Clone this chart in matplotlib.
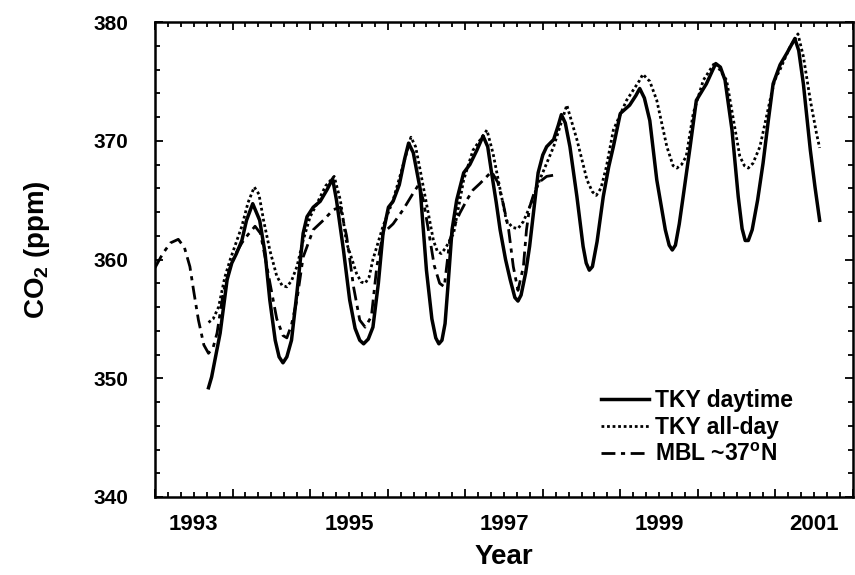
import matplotlib
matplotlib.use("Agg")
from matplotlib import pyplot as plt
import numpy as np

plt.rcParams['font.family'] = ['Liberation Sans', 'DejaVu Sans']
plt.rcParams['font.weight'] = 'bold'
plt.rcParams['mathtext.fontset'] = 'custom'
plt.rcParams['mathtext.rm'] = 'Liberation Sans:bold'
plt.rcParams['mathtext.bf'] = 'Liberation Sans:bold'
plt.rcParams['mathtext.default'] = 'bf'

# TKY daytime (decimal year, ppm)
day_t = [1993.69, 1993.73, 1993.84, 1993.93, 1993.99, 1994.05, 1994.12, 1994.18, 1994.26,
         1994.35, 1994.42, 1994.48, 1994.55, 1994.60, 1994.65, 1994.70, 1994.76, 1994.83,
         1994.91, 1994.96, 1995.04, 1995.13, 1995.22, 1995.29, 1995.34, 1995.43, 1995.51,
         1995.58, 1995.64, 1995.69, 1995.75, 1995.81, 1995.88, 1995.94, 1996.01, 1996.07,
         1996.15, 1996.22, 1996.27, 1996.33, 1996.42, 1996.50, 1996.57, 1996.62, 1996.66,
         1996.70, 1996.74, 1996.78, 1996.83, 1996.89, 1996.98, 1997.06, 1997.15, 1997.23,
         1997.29, 1997.34, 1997.40, 1997.45, 1997.52, 1997.58, 1997.64, 1997.68, 1997.72,
         1997.78, 1997.83, 1997.89, 1997.94, 1998.00, 1998.05, 1998.14, 1998.20, 1998.24,
         1998.29, 1998.35, 1998.44, 1998.52, 1998.56, 1998.60, 1998.64, 1998.70, 1998.78,
         1998.85, 1998.91, 1999.00, 1999.12, 1999.20, 1999.25, 1999.31, 1999.38, 1999.47,
         1999.58, 1999.63, 1999.67, 1999.71, 1999.76, 1999.81, 1999.90, 1999.98, 2000.11,
         2000.18, 2000.23, 2000.29, 2000.35, 2000.44, 2000.52, 2000.57, 2000.61, 2000.65,
         2000.70, 2000.77, 2000.84, 2000.91, 2000.97, 2001.06, 2001.15, 2001.25, 2001.30,
         2001.36, 2001.45, 2001.51, 2001.57]
day_co2 = [349.2, 350.1, 353.8, 358.3, 359.7, 360.5, 361.6, 363.3, 364.7,
           363.3, 360.5, 356.6, 353.2, 351.8, 351.3, 351.8, 353.2, 357.2,
           362.2, 363.6, 364.4, 364.9, 365.9, 366.8, 365.0, 360.8, 356.6,
           354.2, 353.2, 352.9, 353.3, 354.3, 358.0, 362.2, 364.4, 364.9,
           366.3, 368.5, 369.8, 369.0, 365.9, 359.1, 355.0, 353.4, 352.9,
           353.2, 354.6, 358.0, 362.5, 365.0, 367.3, 368.0, 369.2, 370.4,
           369.5, 367.3, 364.8, 362.5, 360.0, 358.3, 356.8, 356.5, 357.0,
           358.9, 361.1, 364.5, 367.3, 368.8, 369.5, 370.1, 371.3, 372.2,
           371.5, 369.5, 365.3, 361.1, 359.7, 359.1, 359.4, 361.5, 365.3,
           367.8, 369.5, 372.3, 373.0, 373.8, 374.4, 373.6, 371.7, 366.7,
           362.5, 361.2, 360.8, 361.2, 363.0, 365.3, 369.5, 373.4, 374.8,
           375.8, 376.5, 376.2, 375.1, 370.9, 365.3, 362.6, 361.6, 361.6,
           362.5, 365.0, 368.1, 371.8, 374.8, 376.4, 377.4, 378.6, 377.6,
           374.8, 369.2, 366.1, 363.3]

# TKY all-day
all_t = [1993.69, 1993.75, 1993.82, 1993.90, 1993.97, 1994.05, 1994.12, 1994.20, 1994.28,
         1994.34, 1994.40, 1994.48, 1994.57, 1994.64, 1994.70, 1994.76, 1994.83, 1994.91,
         1995.00, 1995.08, 1995.20, 1995.31, 1995.39, 1995.47, 1995.60, 1995.66, 1995.71,
         1995.76, 1995.81, 1995.94, 1996.07, 1996.18, 1996.30, 1996.36, 1996.42, 1996.46,
         1996.59, 1996.64, 1996.69, 1996.75, 1996.85, 1996.98, 1997.10, 1997.28, 1997.36,
         1997.45, 1997.53, 1997.61, 1997.68, 1997.75, 1997.83, 1997.96, 1998.14, 1998.31,
         1998.44, 1998.57, 1998.64, 1998.69, 1998.75, 1998.82, 1998.91, 1999.08, 1999.25,
         1999.29, 1999.38, 1999.47, 1999.60, 1999.68, 1999.73, 1999.79, 1999.85, 1999.94,
         2000.07, 2000.22, 2000.37, 2000.46, 2000.54, 2000.60, 2000.65, 2000.71, 2000.80,
         2000.93, 2000.99, 2001.06, 2001.18, 2001.29, 2001.36, 2001.45, 2001.53, 2001.57]
all_co2 = [354.7, 355.0, 356.0, 358.5, 360.0, 361.5, 362.8, 364.8, 366.1,
           365.5, 363.3, 360.8, 358.6, 357.8, 357.7, 358.2, 359.4, 361.6,
           363.6, 364.6, 366.2, 367.0, 365.0, 361.4, 358.8, 358.1, 358.0,
           358.5, 360.0, 362.8, 365.0, 367.5, 370.3, 369.5, 367.5, 366.1,
           361.6, 360.7, 360.5, 361.0, 362.2, 366.7, 369.2, 370.9, 368.9,
           365.9, 363.3, 362.7, 362.6, 363.2, 364.4, 366.7, 369.5, 373.0,
           370.1, 366.7, 365.7, 365.4, 366.0, 367.8, 370.9, 373.4, 375.1,
           375.6, 375.0, 373.4, 369.5, 367.9, 367.7, 368.0, 368.7, 372.3,
           375.1, 376.6, 375.1, 371.7, 368.7, 367.9, 367.7, 368.1, 369.5,
           373.4, 375.1, 376.0, 377.8, 379.0, 377.1, 373.4, 370.6, 369.4]

# MBL ~37N
mbl_t = [1993.00, 1993.10, 1993.20, 1993.30, 1993.38, 1993.45, 1993.50, 1993.56, 1993.63,
         1993.69, 1993.75, 1993.80, 1993.88, 1993.97, 1994.05, 1994.12, 1994.20, 1994.29,
         1994.36, 1994.44, 1994.50, 1994.57, 1994.65, 1994.70, 1994.76, 1994.83, 1994.91,
         1995.04, 1995.17, 1995.30, 1995.39, 1995.47, 1995.56, 1995.64, 1995.71, 1995.79,
         1995.86, 1995.94, 1996.07, 1996.20, 1996.33, 1996.40, 1996.46, 1996.53, 1996.60,
         1996.67, 1996.73, 1996.80, 1996.87, 1996.93, 1997.02, 1997.10, 1997.19, 1997.28,
         1997.34, 1997.42, 1997.49, 1997.56, 1997.62, 1997.68, 1997.75, 1997.79, 1997.83,
         1997.90, 1997.96, 1998.05, 1998.14]
mbl_co2 = [359.3, 360.5, 361.4, 361.7, 361.0, 359.4, 357.3, 354.9, 352.8,
           352.1, 352.6, 353.8, 357.2, 359.4, 360.6, 361.4, 362.1, 362.8,
           362.2, 359.5, 357.4, 355.0, 353.6, 353.4, 354.5, 356.6, 360.2,
           362.5, 363.3, 364.2, 364.4, 362.0, 357.7, 354.9, 354.3, 355.2,
           359.4, 362.2, 363.0, 364.2, 365.6, 366.3, 365.0, 362.3, 359.5,
           358.0, 357.7, 361.6, 363.0, 363.9, 365.0, 365.85, 366.4, 367.0,
           367.4, 366.5, 364.7, 362.5, 359.4, 357.4, 359.4, 362.5, 364.4,
           365.85, 366.55, 367.0, 367.1]

year_labels = ['1993', '1995', '1997', '1999', '2001']

fig = plt.figure(figsize=(8.55, 5.75), dpi=100)
ax = fig.add_axes([155 / 855, 78 / 575, 698 / 855, 475 / 575])

ax.plot(day_t, day_co2, color='black', lw=2.5, linestyle='-', label='TKY daytime')
ax.plot(all_t, all_co2, color='black', lw=2.0, linestyle=(0, (1, 1)), label='TKY all-day')
ax.plot(mbl_t, mbl_co2, color='black', lw=2.0, linestyle=(0, (5, 2, 1.5, 2)),
        label='MBL ~37$^\\mathbf{o}$N')

ax.set_xlim(1993, 2002)
ax.set_ylim(340, 380)

ax.set_xticks(np.arange(1993, 2003))
ax.set_xticklabels([])
ax.set_xticks(np.arange(1993, 2002, 1 / 6), minor=True)
ax.set_yticks(np.arange(340, 381, 10))
ax.set_yticks(np.arange(340, 381, 2), minor=True)

ax.tick_params(which='both', direction='in', top=True, right=True, width=1.3)
ax.tick_params(which='major', length=6)
ax.tick_params(which='minor', length=3.5)
ax.tick_params(axis='y', labelsize=15, pad=19)
for s in ax.spines.values():
    s.set_linewidth(1.8)

for lab in year_labels:
    ax.text(int(lab) + 0.5, -0.035, lab, transform=ax.get_xaxis_transform(),
            ha='center', va='top', fontsize=16, fontweight='bold')

ax.set_xlabel('Year', fontsize=20, fontweight='bold')
ax.xaxis.set_label_coords(0.5, -0.1)
ax.set_ylabel('CO$_2$ (ppm)', fontsize=20, fontweight='bold')
ax.yaxis.set_label_coords(-0.148, 0.52)

ax.legend(loc='lower right', bbox_to_anchor=(0.93, 0.042), frameon=False,
          fontsize=16.5, handlelength=2.1, handletextpad=0.26, labelspacing=0.17,
          borderpad=0)

plt.savefig("out.png", dpi=100)
